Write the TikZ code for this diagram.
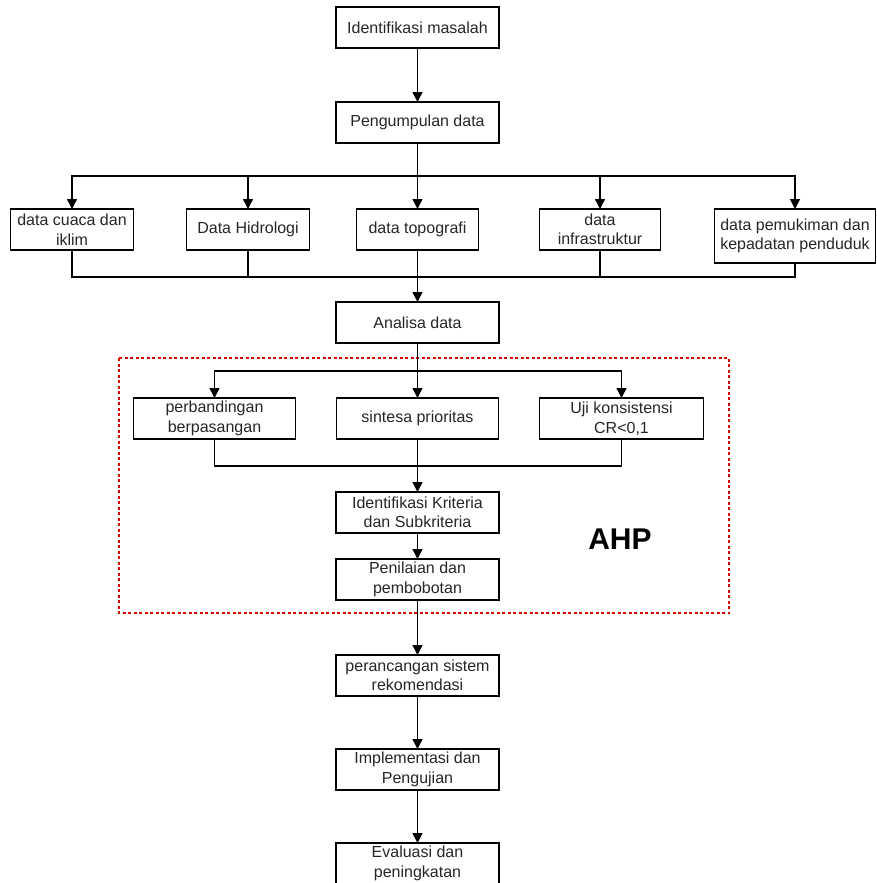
\documentclass[tikz,border=0pt]{standalone}
\usepackage{fontspec}
\setmainfont{Liberation Sans}
\usetikzlibrary{positioning,arrows.meta}

\begin{document}
\begin{tikzpicture}
        [x=1pt,y=-1pt,
         b/.style={rectangle,draw,line width=1.3pt,outer sep=0pt,minimum width=163pt,minimum height=41pt,
                   align=center,inner sep=2pt,text=black!85,font=\fontsize{16}{19.5}\selectfont},
         l/.style={line width=1.5pt},
         ar/.style={l,-{Triangle[width=10pt,length=10pt]}},
         fr/.style={draw=red!85!black,line width=1.2pt,dash pattern=on 3pt off 2.5pt}]
        \useasboundingbox (0,0) rectangle (877,883);
        \node[b](im) at (417.5,27.5){Identifikasi masalah};
        \node[b](pd)[below =54pt of im]{Pengumpulan data};
        \node[b,minimum width=122pt](d3)[below =66pt of pd]{data topografi};
        \node[b,minimum width=123pt](d2)[left =47pt of d3]{Data Hidrologi};
        \node[b,minimum width=123pt](d1)[left =53pt of d2]{data cuaca dan\\iklim};
        \node[b,minimum width=121pt](d4)[right =61pt of d3]{data\\infrastruktur};
        \node[b,minimum width=161pt,minimum height=54pt](d5)[right =54pt of d4.north east,anchor=north west]{data pemukiman dan\\kepadatan penduduk};
        \node[b](ad)[below =52pt of d3]{Analisa data};
        \node[b,minimum width=162pt](sp)[below =55pt of ad]{sintesa prioritas};
        \node[b,minimum width=162pt](pb)[left =41pt of sp]{perbandingan\\berpasangan};
        \node[b,minimum width=164pt](uk)[right =41pt of sp]{Uji konsistensi\\CR<0,1};
        \node[b](ik)[below =53pt of sp]{Identifikasi Kriteria\\dan Subkriteria};
        \node[b](pp)[below =26pt of ik]{Penilaian dan\\pembobotan};
        \node[b](ps)[below =55pt of pp]{perancangan sistem\\rekomendasi};
        \node[b](ip)[below =53pt of ps]{Implementasi dan\\Pengujian};
        \node[b](ep)[below =53pt of ip]{Evaluasi dan\\peningkatan};
        \node[font=\bfseries\fontsize{30}{30}\selectfont](ahp) at (620,539){AHP};
        \draw[fr] (119,358) rectangle (729,613);
        % pengumpulan data ke lima data
        \coordinate[below =33pt of pd](s1);
        \coordinate[below =27pt of d3](s2);
        \draw[l] (pd) -- (s1);
        \draw[ar] (s1) -| (d1);
        \draw[ar] (s1) -| (d2);
        \draw[ar] (s1) -- (d3);
        \draw[ar] (s1) -| (d4);
        \draw[ar] (s1) -| (d5);
        \draw[l] (d1) |- (s2);
        \draw[l] (d2) |- (s2);
        \draw[l] (d4) |- (s2);
        \draw[l] (d5) |- (s2);
        \draw[ar] (d3) -- (ad);
        % AHP
        \coordinate[below =28pt of ad](s3);
        \coordinate[below =27pt of sp](s4);
        \draw[l] (ad) -- (s3);
        \draw[ar] (s3) -| (pb);
        \draw[ar] (s3) -- (sp);
        \draw[ar] (s3) -| (uk);
        \draw[l] (pb) |- (s4);
        \draw[l] (uk) |- (s4);
        \draw[ar] (sp) -- (ik);
        \path[ar](im) edge (pd)
                (ik) edge (pp)
                (pp) edge (ps)
                (ps) edge (ip)
                (ip) edge (ep);
\end{tikzpicture}
\end{document}
